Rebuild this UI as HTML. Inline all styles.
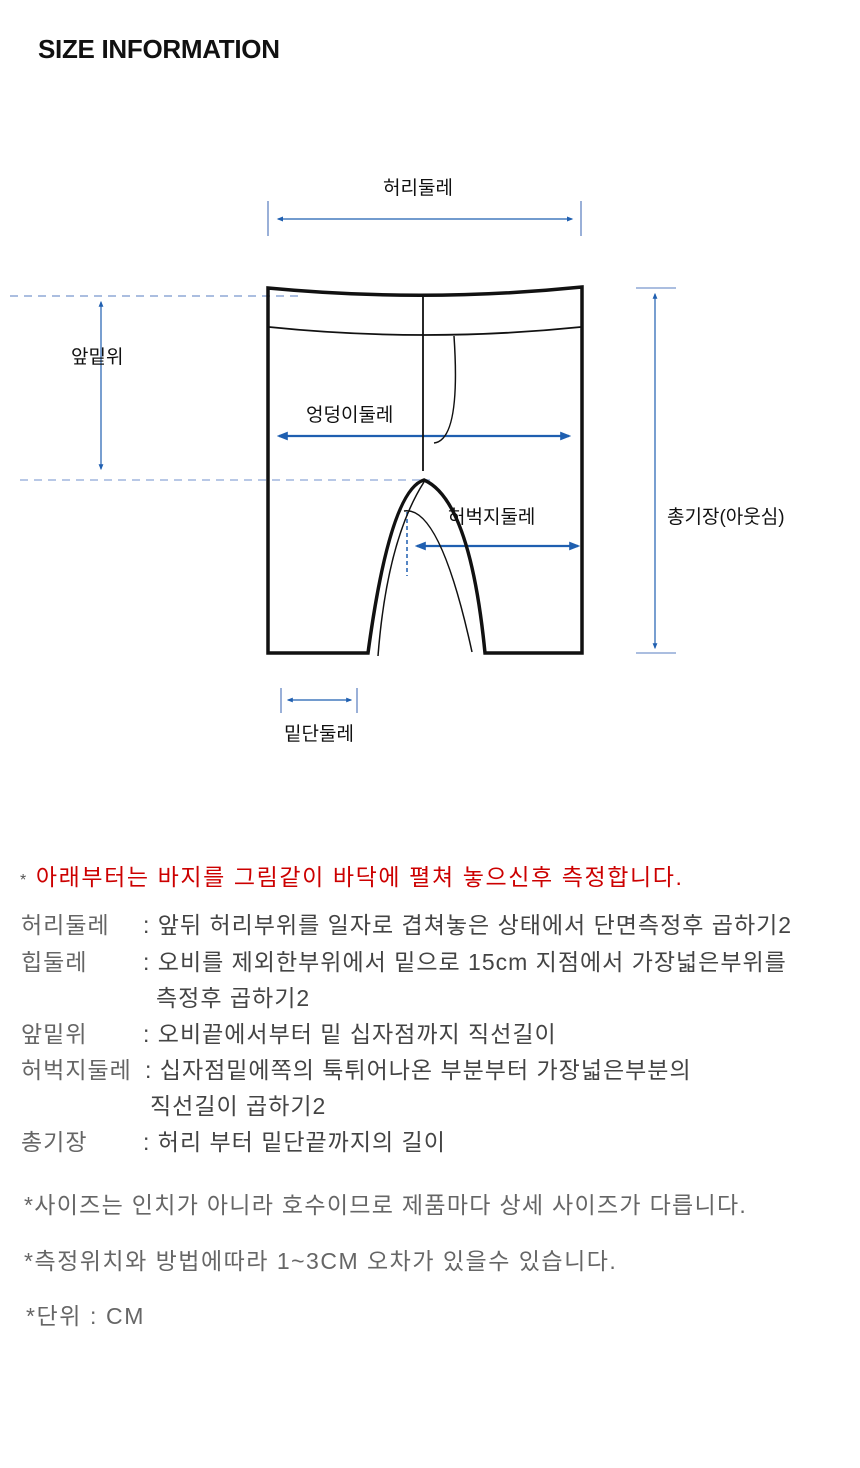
<!DOCTYPE html>
<html><head><meta charset="utf-8"><style>
body{margin:0;background:#fff;width:860px;height:1468px;position:relative;overflow:hidden;font-family:"Liberation Sans","Noto Sans CJK KR",sans-serif}
.t{position:absolute;white-space:nowrap}
.g{color:#666;font-size:23px;letter-spacing:1px}
.n{letter-spacing:1.3px}
</style></head><body>
<div class="t" style="left:38px;top:34px;font-size:26px;font-weight:bold;color:#111;letter-spacing:-0.3px">SIZE INFORMATION</div>
<svg style="position:absolute;left:0;top:0" width="860" height="800">
<defs>
<marker id="a" viewBox="0 0 10 10" refX="8" refY="5" markerWidth="5" markerHeight="5" orient="auto-start-reverse"><path d="M0 1L10 5L0 9z" fill="#1f5fb0"/></marker>
</defs>
<g fill="none" stroke="#1f5fb0">
<line x1="268" y1="201" x2="268" y2="236" stroke="#9ab0d8" stroke-width="2"/>
<line x1="581" y1="201" x2="581" y2="236" stroke="#9ab0d8" stroke-width="2"/>
<line x1="278" y1="219" x2="572" y2="219" stroke-width="1.3" marker-start="url(#a)" marker-end="url(#a)"/>
<line x1="10" y1="296" x2="300" y2="296" stroke="#8fa9d6" stroke-width="1.5" stroke-dasharray="8,6"/>
<line x1="20" y1="480" x2="430" y2="480" stroke="#b8c8e6" stroke-width="2" stroke-dasharray="8,6"/>
<line x1="101" y1="302" x2="101" y2="469" stroke-width="1.2" marker-start="url(#a)" marker-end="url(#a)"/>
<line x1="279" y1="436" x2="569" y2="436" stroke-width="2.2" marker-start="url(#a)" marker-end="url(#a)"/>
<line x1="417" y1="546" x2="578" y2="546" stroke-width="2.2" marker-start="url(#a)" marker-end="url(#a)"/>
<line x1="407" y1="512" x2="407" y2="576" stroke-width="1.5" stroke-dasharray="4,3"/>
<line x1="636" y1="288" x2="676" y2="288" stroke="#8fa9d6" stroke-width="1.5"/>
<line x1="636" y1="653" x2="676" y2="653" stroke="#8fa9d6" stroke-width="1.5"/>
<line x1="655" y1="294" x2="655" y2="648" stroke-width="1.2" marker-start="url(#a)" marker-end="url(#a)"/>
<line x1="281" y1="688" x2="281" y2="713" stroke="#9ab0d8" stroke-width="2"/>
<line x1="357" y1="688" x2="357" y2="713" stroke="#9ab0d8" stroke-width="2"/>
<line x1="288" y1="700" x2="351" y2="700" stroke-width="1.2" marker-start="url(#a)" marker-end="url(#a)"/>
</g>
<g fill="none" stroke="#111">
<path d="M268 653 L268 288 Q425 303 582 287 L582 653 L485 653 Q470 500 424 480 Q390 490 368 653 Z" stroke-width="3.5" stroke-linejoin="miter"/>
<path d="M269 327 Q425 343 581 327" stroke-width="1.8"/>
<line x1="423" y1="297" x2="423" y2="471" stroke-width="1.8"/>
<path d="M454 336 Q461 440 434 443" stroke-width="1.5"/>
<path d="M404 511 Q440 505 472 652" stroke-width="1.5"/>
<path d="M378 656 Q387 540 424 482" stroke-width="1.5"/>
</g>
<g font-size="19" fill="#111" font-family="Liberation Sans,Noto Sans CJK KR,sans-serif">
<text x="383" y="194">허리둘레</text>
<text x="71" y="363">앞밑위</text>
<text x="306" y="421">엉덩이둘레</text>
<text x="448" y="523">허벅지둘레</text>
<text x="667" y="523">총기장(아웃심)</text>
<text x="284" y="740">밑단둘레</text>
</g>
</svg>
<div class="t" style="left:20px;top:858px;font-size:23px;color:#c00;letter-spacing:1.6px"><span style="color:#555;font-size:16px">*</span> 아래부터는 바지를 그림같이 바닥에 펼쳐 놓으신후 측정합니다.</div>
<div class="t g" style="left:21px;top:906px">허리둘레</div><div class="t g" style="left:143px;top:906px;color:#444">: 앞뒤 허리부위를 일자로 겹쳐놓은 상태에서 단면측정후 곱하기2</div>
<div class="t g" style="left:21px;top:943px">힙둘레</div><div class="t g" style="left:143px;top:943px;color:#444">: 오비를 제외한부위에서 밑으로 15cm 지점에서 가장넓은부위를</div>
<div class="t g" style="left:156px;top:979px;color:#444">측정후 곱하기2</div>
<div class="t g" style="left:21px;top:1015px">앞밑위</div><div class="t g" style="left:143px;top:1015px;color:#444">: 오비끝에서부터 밑 십자점까지 직선길이</div>
<div class="t g" style="left:21px;top:1051px">허벅지둘레</div><div class="t g" style="left:145px;top:1051px;color:#444">: 십자점밑에쪽의 툭튀어나온 부분부터 가장넓은부분의</div>
<div class="t g" style="left:150px;top:1087px;color:#444">직선길이 곱하기2</div>
<div class="t g" style="left:21px;top:1123px">총기장</div><div class="t g" style="left:143px;top:1123px;color:#444">: 허리 부터 밑단끝까지의 길이</div>
<div class="t g n" style="left:24px;top:1186px">*사이즈는 인치가 아니라 호수이므로 제품마다 상세 사이즈가 다릅니다.</div>
<div class="t g n" style="left:24px;top:1242px;letter-spacing:1.5px">*측정위치와 방법에따라 1~3CM 오차가 있을수 있습니다.</div>
<div class="t g n" style="left:26px;top:1297px;letter-spacing:1.6px">*단위 : CM</div>
</body></html>
